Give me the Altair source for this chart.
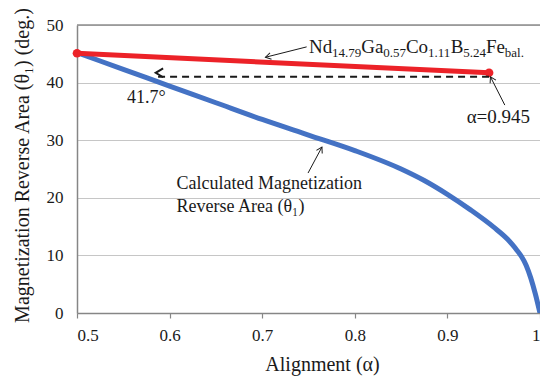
import altair as alt
import pandas as pd

# Calculated magnetization reverse area theta_1 versus alignment alpha
alpha_calc = [0.50, 0.55, 0.60, 0.65, 0.70, 0.75, 0.80, 0.85, 0.875, 0.90,
              0.925, 0.95, 0.965, 0.97, 0.975, 0.98, 0.985, 0.99,
              0.995, 1.0]
theta_calc = [45.2, 42.3, 39.4, 36.5, 33.6, 30.9, 28.2, 25.0, 23.0, 20.6,
              17.9, 14.9, 12.8, 11.9, 10.9, 9.8, 8.3, 6.1,
              3.3, 0.0]

# Measured sample line (Nd-Ga-Co-B-Fe)
alpha_meas = [0.5, 0.945]
theta_meas = [45.1, 41.7]

# Dashed read-off arrow
arrow_from = 0.945
arrow_to = 0.585
arrow_theta = 41.7

x_ticks = [0.5, 0.6, 0.7, 0.8, 0.9, 1.0]
y_ticks = [0, 10, 20, 30, 40, 50]

FONT = "Liberation Serif, Times New Roman, serif"
INK = "#1a1a1a"
BLUE = "#4472C4"
RED = "#EC2228"

calc_df = pd.DataFrame({"alpha": alpha_calc, "theta": theta_calc})
meas_df = pd.DataFrame({"alpha": alpha_meas, "theta": theta_meas})

x_axis = alt.Axis(
    values=x_ticks,
    labelExpr="datum.value == 1 ? '1' : format(datum.value, '.1f')",
    title="Alignment (α)",
    grid=False,
    domainColor="#868686", domainWidth=1.5,
    tickColor="#868686", tickSize=5, tickWidth=1.2,
    labelPadding=9, labelFont=FONT, labelFontSize=17, labelColor=INK,
    titleFont=FONT, titleFontSize=20, titleFontWeight="normal", titleColor=INK,
    titleX=245, titleY=57, titleAlign="center", titleBaseline="alphabetic",
)
y_axis = alt.Axis(
    values=y_ticks,
    title="Magnetization Reverse Area (θ₁) (deg.)",
    grid=True, gridColor="#C6C6C6", gridWidth=1.2,
    ticks=False,
    domainColor="#868686", domainWidth=1.5,
    labelPadding=14, labelFont=FONT, labelFontSize=17, labelColor=INK,
    titleFont=FONT, titleFontSize=20, titleFontWeight="normal", titleColor=INK,
    titleAngle=270, titleX=-49, titleY=140, titleAlign="center",
    titleBaseline="alphabetic",
)
x_scale = alt.Scale(domain=[0.5, 1.0], nice=False, zero=False)
y_scale = alt.Scale(domain=[0, 50], nice=False)


def X(field):
    return alt.X(field, type="quantitative", scale=x_scale, axis=x_axis)


def Y(field):
    return alt.Y(field, type="quantitative", scale=y_scale, axis=y_axis)


# top border of the plot frame
top_df = pd.DataFrame({"a": [0.5], "a2": [1.0], "t": [50]})
top_rule = alt.Chart(top_df).mark_rule(color="#8C8C8C", strokeWidth=1.5).encode(
    x=X("a"), x2="a2", y=Y("t"))

calc_line = alt.Chart(calc_df).mark_line(
    color=BLUE, strokeWidth=5, interpolate="monotone", clip=True
).encode(x=X("alpha"), y=Y("theta"))

meas_line = alt.Chart(meas_df).mark_line(color=RED, strokeWidth=5).encode(
    x=X("alpha"), y=Y("theta"))
meas_pts = alt.Chart(meas_df).mark_point(
    filled=True, color=RED, size=75, opacity=1).encode(x=X("alpha"), y=Y("theta"))

# dashed arrow from the measured point to the calculated curve
dash_df = pd.DataFrame({"a": [arrow_from], "a2": [arrow_to], "t": [arrow_theta]})
dash_rule = alt.Chart(dash_df).mark_rule(
    color=INK, strokeWidth=2, strokeDash=[7, 5], yOffset=4
).encode(x=X("a"), x2="a2", y=Y("t"))

# thin leader lines of the annotations
lead_df = pd.DataFrame({
    "a": [0.748, 0.962, 0.7495],
    "t": [46.2, 36.1, 24.3],
    "a2": [0.7035, 0.9465, 0.7645],
    "t2": [44.4, 41.0, 28.8],
})
leaders = alt.Chart(lead_df).mark_rule(color=INK, strokeWidth=1).encode(
    x=X("a"), y=Y("t"), x2="a2", y2="t2")

CHEVRON = "M -1 -0.6 L 0 0 L -1 0.6"
head_df = pd.DataFrame({
    "a": [arrow_to, 0.7035, 0.9465, 0.7645],
    "t": [arrow_theta, 44.4, 41.0, 28.8],
    "ang": [180, 166.6, 242, 298.3],
    "sz": [220, 120, 120, 120],
    "sw": [2, 1, 1, 1],
    "off": [4, 0, 0, 0],
})
heads = alt.Chart(head_df).mark_point(
    shape=CHEVRON, filled=False, color=INK, opacity=1
).encode(
    x=X("a"), y=Y("t"),
    angle=alt.Angle("ang:Q", scale=None),
    size=alt.Size("sz:Q", scale=None),
    strokeWidth=alt.StrokeWidth("sw:Q", scale=None),
    yOffset=alt.YOffset("off:Q", scale=None),
)

# plain text annotations
note_df = pd.DataFrame({
    "a": [0.554, 0.955, 0.6075, 0.6075],
    "t": [36.5, 33.0, 21.5, 17.5],
    "txt": ["41.7°", "α=0.945", "Calculated Magnetization", "Reverse Area (θ₁)"],
    "al": ["left", "center", "left", "left"],
})
notes_left = alt.Chart(note_df[note_df.al == "left"]).mark_text(
    font=FONT, fontSize=18, color=INK, align="left", baseline="alphabetic"
).encode(x=X("a"), y=Y("t"), text="txt:N")
notes_center = alt.Chart(note_df[note_df.al == "center"]).mark_text(
    font=FONT, fontSize=19, color=INK, align="center", baseline="alphabetic"
).encode(x=X("a"), y=Y("t"), text="txt:N")

# composition label with subscripts; each piece is placed after the previous
# one using Times-compatible advance widths (em/1000)
formula_parts = ["Nd", "14.79", "Ga", "0.57", "Co", "1.11", "B", "5.24", "Fe", "bal."]
formula_sub = [False, True, False, True, False, True, False, True, False, True]
formula_start = 0.7505
formula_theta_main = 45.1
formula_theta_sub = 44.4
MAIN_FS, SUB_FS = 19, 13
ADV = {"N": 722, "d": 500, "G": 722, "a": 444, "C": 667, "o": 500, "B": 667,
       "F": 556, "e": 444, "b": 500, "l": 278, ".": 250}
ALPHA_PER_PX = 0.5 / 465

rows = []
pos = formula_start
for part, sub in zip(formula_parts, formula_sub):
    fs = SUB_FS if sub else MAIN_FS
    rows.append({"a": pos, "t": formula_theta_sub if sub else formula_theta_main,
                 "txt": part, "fs": fs})
    width_px = sum(ADV.get(ch, 500) for ch in part) / 1000 * fs
    pos += width_px * ALPHA_PER_PX
formula_df = pd.DataFrame(rows)
formula = alt.Chart(formula_df).mark_text(
    font=FONT, color=INK, align="left", baseline="alphabetic"
).encode(x=X("a"), y=Y("t"), text="txt:N",
         size=alt.Size("fs:Q", scale=None))

chart = alt.layer(
    top_rule, calc_line, meas_line, meas_pts, dash_rule, leaders, heads,
    notes_left, notes_center, formula,
).properties(
    width=463, height=288,
    padding={"left": 77, "top": 25, "right": 0, "bottom": 63},
    autosize=alt.AutoSizeParams(type="none"),
    background="white",
).configure_view(stroke=None).configure_axis(
    labelFont=FONT, titleFont=FONT
).configure_text(font=FONT)

chart.save("out.html", embed_options={"renderer": "svg", "actions": False})
